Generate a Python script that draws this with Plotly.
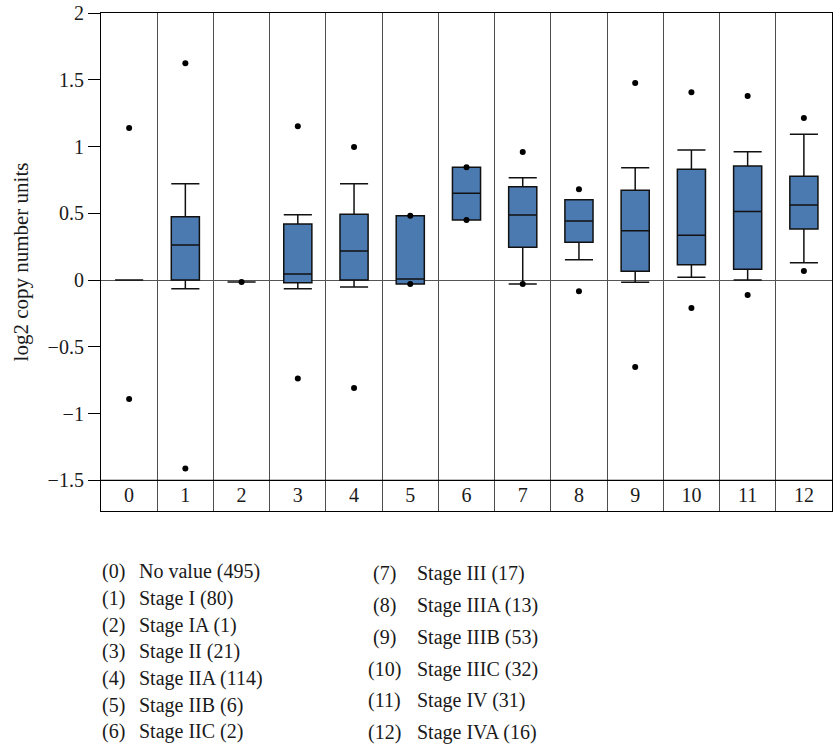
import plotly.graph_objects as go

# ---- data ----
categories = list(range(13))
cat_labels = [str(c) for c in categories]
q1_vals = [0.0, 0.0, -0.015, -0.02, 0.0, -0.03, 0.449, 0.245, 0.282, 0.065, 0.115, 0.080, 0.382]
median_vals = [0.0, 0.262, -0.015, 0.045, 0.217, 0.007, 0.649, 0.487, 0.442, 0.369, 0.335, 0.514, 0.562]
q3_vals = [0.0, 0.474, -0.015, 0.419, 0.492, 0.482, 0.844, 0.699, 0.602, 0.672, 0.829, 0.854, 0.777]
lower_vals = [0.0, -0.065, -0.015, -0.065, -0.052, -0.03, 0.449, -0.03, 0.152, -0.017, 0.020, 0.0, 0.130]
upper_vals = [0.0, 0.721, -0.015, 0.489, 0.721, 0.482, 0.844, 0.766, 0.602, 0.841, 0.974, 0.961, 1.091]

point_x = [0, 0, 1, 1, 2, 3, 3, 4, 4, 5, 5, 6, 6, 7, 7, 8, 8, 9, 9, 10, 10, 11, 11, 12, 12]
point_y = [1.139, -0.891, 1.623, -1.411, -0.015, 1.151, -0.737, 0.996, -0.809,
           0.482, -0.03, 0.844, 0.449, 0.959, -0.03, 0.679, -0.085, 1.476, -0.652,
           1.406, -0.210, 1.378, -0.112, 1.213, 0.067]

y_tickvals = [-1.5, -1, -0.5, 0, 0.5, 1, 1.5, 2]
y_ticktext = ["\u22121.5", "\u22121", "\u22120.5", "0", "0.5", "1", "1.5", "2"]

stage_names = ["No value", "Stage I", "Stage IA", "Stage II", "Stage IIA", "Stage IIB", "Stage IIC",
               "Stage III", "Stage IIIA", "Stage IIIB", "Stage IIIC", "Stage IV", "Stage IVA"]
stage_counts = [495, 80, 1, 21, 114, 6, 2, 17, 13, 53, 32, 31, 16]

FONT = "Liberation Serif"
BOX_COLOR = "#4a7ab0"
TXT = "#1a1a1a"

fig = go.Figure()
fig.add_trace(go.Box(
    x=categories, q1=q1_vals, median=median_vals, q3=q3_vals,
    lowerfence=lower_vals, upperfence=upper_vals,
    boxpoints=False, width=0.5, whiskerwidth=1,
    fillcolor=BOX_COLOR, line=dict(color="#111111", width=1.5),
    showlegend=False, hoverinfo="skip",
))
fig.add_trace(go.Scatter(
    x=point_x, y=point_y, mode="markers",
    marker=dict(color="black", size=6), showlegend=False, hoverinfo="skip",
))

# row separator line between plot and label row
fig.add_shape(type="line", xref="paper", yref="y", x0=0, x1=1, y0=-1.5, y1=-1.5,
              line=dict(color="black", width=1.2), layer="above")

# pixel geometry of the plot area
plot_left, plot_w = 101, 731
plot_bottom, plot_h = 511, 498


def px_x(p):
    return (p - plot_left) / plot_w


def px_y(p):
    return (plot_bottom - p) / plot_h


annotations = []
for i, (name, cnt) in enumerate(zip(stage_names, stage_counts)):
    if i < 7:
        cx, tx, ty = 113, 137, 571.7 + i * 26.67
    else:
        cx, tx, ty = 384, 415, 573.3 + (i - 7) * 31.9
    annotations.append(dict(x=px_x(cx), y=px_y(ty), xref="paper", yref="paper",
                            text=f"({i})", showarrow=False, xanchor="center", yanchor="middle",
                            font=dict(family=FONT, size=20, color=TXT)))
    annotations.append(dict(x=px_x(tx), y=px_y(ty), xref="paper", yref="paper",
                            text=f"{name} ({cnt})", showarrow=False, xanchor="left", yanchor="middle",
                            font=dict(family=FONT, size=20, color=TXT)))

fig.update_layout(
    width=833, height=746,
    margin=dict(l=101, r=1, t=13, b=235, autoexpand=False),
    paper_bgcolor="white", plot_bgcolor="white",
    font=dict(family=FONT, size=20, color=TXT),
    annotations=annotations,
    xaxis=dict(
        range=[-0.5, 12.5], tickvals=categories, ticktext=cat_labels,
        ticks="", ticklabelposition="inside", ticklabelstandoff=6,
        showgrid=False, zeroline=False, automargin=False,
        showline=True, mirror=True, linecolor="black", linewidth=1.2,
        tickfont=dict(family=FONT, size=20, color=TXT),
        minor=dict(tickvals=[c + 0.5 for c in categories[:-1]], showgrid=True,
                   gridcolor="#4d4d4d", gridwidth=1, ticks=""),
    ),
    yaxis=dict(
        range=[-1.73, 2], tickvals=y_tickvals, ticktext=y_ticktext,
        ticks="outside", ticklen=12, tickcolor="black", tickwidth=1,
        showgrid=False, zeroline=True, zerolinecolor="#555555", zerolinewidth=1.2,
        showline=True, mirror="ticks", linecolor="black", linewidth=1.2,
        automargin=False, ticklabeloverflow="allow",
        tickfont=dict(family=FONT, size=20, color=TXT),
        title=dict(text="log2 copy number units", standoff=13,
                   font=dict(family=FONT, size=21, color=TXT)),
    ),
)

fig.write_html("out.html", config={"displayModeBar": False},
               post_script="document.body.style.margin='0';")
